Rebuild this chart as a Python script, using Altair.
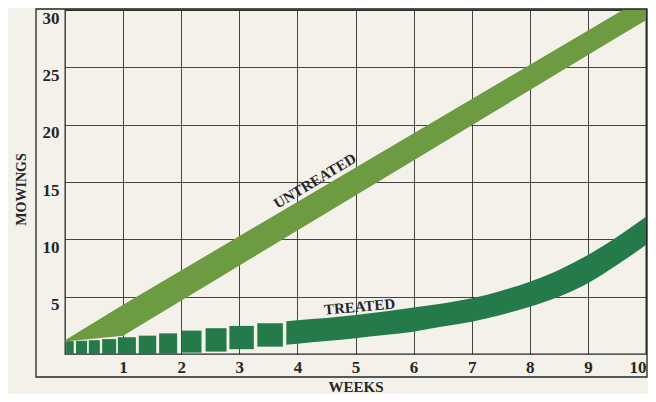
import altair as alt
import pandas as pd

# ---- data ----
# Untreated band (straight, light green)
untreated_x = [0, 1, 9.6, 10]
untreated_hi = [1.2, 4.3, 30, 30]
untreated_lo = [1.1, 1.6, 27.9, 29.1]

# Treated band, first weeks drawn as separate blocks
block_x0 = [0.02, 0.19, 0.41, 0.64, 0.91, 1.27, 1.62, 2.01, 2.42, 2.83, 3.31]
block_x1 = [0.15, 0.38, 0.60, 0.88, 1.22, 1.57, 1.93, 2.35, 2.78, 3.25, 3.75]
block_hi = [1.12, 1.15, 1.2, 1.3, 1.45, 1.6, 1.8, 2.04, 2.25, 2.45, 2.68]
block_lo = [0, 0, 0, 0, 0, 0, 0.02, 0.12, 0.21, 0.42, 0.64]

# Treated band, solid part
treated_x = [3.81, 4, 4.5, 5, 5.5, 6, 6.5, 7, 7.5, 8, 8.5, 9, 9.5, 10]
treated_hi = [2.85, 2.95, 3.15, 3.4, 3.7, 4.05, 4.4, 4.86, 5.5, 6.3, 7.33, 8.63, 10.2, 11.97]
treated_lo = [0.8, 0.9, 1.14, 1.38, 1.65, 1.95, 2.39, 2.82, 3.4, 4.13, 5.0, 6.17, 7.76, 9.5]

# Band labels
label_text = ["UNTREATED", "TREATED"]
label_x = [4.3, 5.07]
label_y = [15.1, 4.13]

x_ticks = list(range(1, 11))
y_ticks = [5, 10, 15, 20, 25, 30]

# ---- styling ----
BG = "#f3f1ea"
INK = "#262626"
LIGHT = "#6d9b41"
DARK = "#257a49"
FONT = "Liberation Serif"

xs = alt.Scale(domain=[0, 10], nice=False, zero=False)
ys = alt.Scale(domain=[0, 30], nice=False, zero=False)

untreated = pd.DataFrame({"x": untreated_x, "hi": untreated_hi, "lo": untreated_lo})
blocks = pd.DataFrame({"x0": block_x0, "x1": block_x1, "hi": block_hi, "lo": block_lo})
treated = pd.DataFrame({"x": treated_x, "hi": treated_hi, "lo": treated_lo})
labels = pd.DataFrame({"t": label_text, "x": label_x, "y": label_y})

x_axis = alt.Axis(
    values=x_ticks, format="d", grid=True, gridColor=INK, gridWidth=1, gridOpacity=0.85,
    domain=False, ticks=False, labelPadding=5, labelFont=FONT, labelFontSize=17,
    labelFontWeight="bold", labelColor=INK, labelFlush=True,
    title="WEEKS", titleFont=FONT, titleFontSize=15, titleFontWeight="bold",
    titleColor=INK, titleY=37, titleBaseline="alphabetic",
)
y_axis = alt.Axis(
    values=y_ticks, format="d", grid=True, gridColor=INK, gridWidth=1, gridOpacity=0.85,
    domain=False, ticks=False, labelPadding=6, labelFont=FONT, labelFontSize=17,
    labelFontWeight="bold", labelColor=INK, labelBaseline="top", labelAlign="right",
    title="MOWINGS", titleFont=FONT, titleFontSize=14, titleFontWeight="bold",
    titleColor=INK, titleX=-44, titleY=179, titleAngle=270, titleBaseline="middle",
    titleAlign="center",
)

band_u = alt.Chart(untreated).mark_area(color=LIGHT, opacity=1).encode(
    x=alt.X("x:Q", scale=xs, axis=x_axis),
    y=alt.Y("hi:Q", scale=ys, axis=y_axis),
    y2="lo:Q",
)

band_blocks = alt.Chart(blocks).mark_rect(color=DARK).encode(
    x=alt.X("x0:Q", scale=xs),
    x2="x1:Q",
    y=alt.Y("hi:Q", scale=ys),
    y2="lo:Q",
)

band_t = alt.Chart(treated).mark_area(color=DARK, interpolate="monotone").encode(
    x=alt.X("x:Q", scale=xs),
    y=alt.Y("hi:Q", scale=ys),
    y2="lo:Q",
)

lab_u = alt.Chart(labels[labels.t == "UNTREATED"]).mark_text(
    font=FONT, fontSize=15, fontWeight="bold", color=INK, angle=329,
    align="center", baseline="middle",
).encode(x=alt.X("x:Q", scale=xs), y=alt.Y("y:Q", scale=ys), text="t:N")

lab_t = alt.Chart(labels[labels.t == "TREATED"]).mark_text(
    font=FONT, fontSize=15, fontWeight="bold", color=INK, angle=355,
    align="center", baseline="middle",
).encode(x=alt.X("x:Q", scale=xs), y=alt.Y("y:Q", scale=ys), text="t:N")

frame = alt.Chart(pd.DataFrame({"k": [0]})).mark_rect(
    filled=False, stroke=INK, strokeWidth=1.3
).encode(
    x=alt.value(-29), x2=alt.value(582), y=alt.value(-1), y2=alt.value(367)
)

chart = (
    alt.layer(band_u, band_blocks, band_t, lab_u, lab_t, frame)
    .properties(
        width=581, height=344,
        autosize=alt.AutoSizeParams(type="none"),
        padding={"left": 57, "top": 2, "right": 2, "bottom": 40},
        background=BG,
    )
    .configure_view(stroke=INK, strokeWidth=1.3)
)

chart.save("out.html", embed_options={"renderer": "svg", "actions": False})
